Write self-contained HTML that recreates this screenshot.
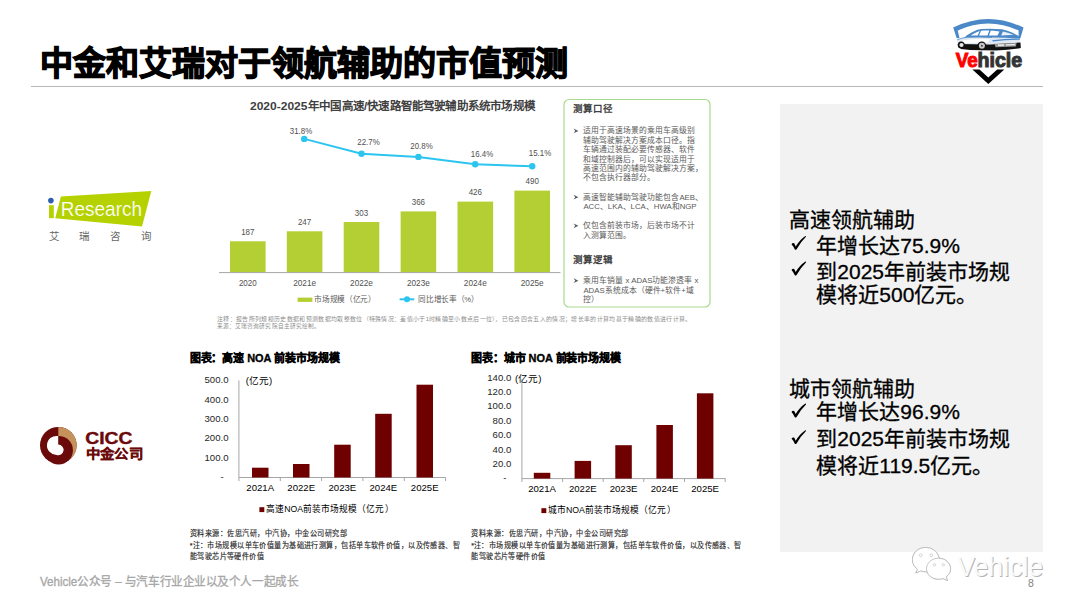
<!DOCTYPE html>
<html lang="zh-CN"><head><meta charset="utf-8">
<style>
html,body{margin:0;padding:0;background:#fff;}
body{width:1080px;height:612px;position:relative;overflow:hidden;font-family:"Liberation Sans",sans-serif;}
.a{position:absolute;white-space:nowrap;}
#title{left:39.8px;top:43.5px;font-size:33px;line-height:40px;font-weight:700;-webkit-text-stroke:1.25px #000;color:#000;}
#hr{left:31px;top:86px;width:1012px;height:1px;background:#b8b8b8;}
#gray{left:780px;top:104px;width:263px;height:448px;background:#f2f2f2;}
.rt{font-size:21px;line-height:25px;color:#000;-webkit-text-stroke:0.3px #000;}
svg{position:absolute;left:0;top:0;}
</style></head>
<body>
<div class="a" id="title">中金和艾瑞对于领航辅助的市值预测</div>
<div class="a" id="hr"></div>
<div class="a" id="gray"></div>

<!-- right panel text -->
<div class="a rt" style="left:789.4px;top:207px;">高速领航辅助</div>
<div class="a rt" style="left:816.3px;top:232.5px;">年增长达75.9%</div>
<div class="a rt" style="left:816.3px;top:258.5px;">到2025年前装市场规</div>
<div class="a rt" style="left:816.3px;top:281.5px;">模将近500亿元。</div>

<div class="a rt" style="left:789.4px;top:375.5px;">城市领航辅助</div>
<div class="a rt" style="left:816.3px;top:399px;">年增长达96.9%</div>
<div class="a rt" style="left:816.3px;top:426px;">到2025年前装市场规</div>
<div class="a rt" style="left:816.3px;top:453px;">模将近119.5亿元。</div>
<svg width="1080" height="612" viewBox="0 0 1080 612">
<path transform="translate(0,0.0)" d="M791.5,244.3 Q792.6,242.6 794.2,243.3 L795.7,246.4 Q799.8,239.6 805.4,235.9 Q806.2,235.8 806,236.7 Q800.8,241.6 796.6,249.3 Q795.6,250.2 794.8,249.5 Q793.6,246.6 791.5,244.3 Z" fill="#000"/>
<path transform="translate(0,25.7)" d="M791.5,244.3 Q792.6,242.6 794.2,243.3 L795.7,246.4 Q799.8,239.6 805.4,235.9 Q806.2,235.8 806,236.7 Q800.8,241.6 796.6,249.3 Q795.6,250.2 794.8,249.5 Q793.6,246.6 791.5,244.3 Z" fill="#000"/>
<path transform="translate(0,167.7)" d="M791.5,244.3 Q792.6,242.6 794.2,243.3 L795.7,246.4 Q799.8,239.6 805.4,235.9 Q806.2,235.8 806,236.7 Q800.8,241.6 796.6,249.3 Q795.6,250.2 794.8,249.5 Q793.6,246.6 791.5,244.3 Z" fill="#000"/>
<path transform="translate(0,194.3)" d="M791.5,244.3 Q792.6,242.6 794.2,243.3 L795.7,246.4 Q799.8,239.6 805.4,235.9 Q806.2,235.8 806,236.7 Q800.8,241.6 796.6,249.3 Q795.6,250.2 794.8,249.5 Q793.6,246.6 791.5,244.3 Z" fill="#000"/>
</svg>

<!-- iResearch chart -->
<svg width="1080" height="612" viewBox="0 0 1080 612">
  <!-- bars -->
  <g fill="#b3cf33">
    <rect x="230" y="241.3" width="35.6" height="31.1"/>
    <rect x="286.8" y="231.3" width="35.6" height="41.1"/>
    <rect x="343.7" y="222" width="35.6" height="50.4"/>
    <rect x="400.6" y="211.4" width="35.6" height="61"/>
    <rect x="457.5" y="201.6" width="35.6" height="70.8"/>
    <rect x="514.4" y="190.6" width="35.6" height="81.8"/>
  </g>
  <line x1="219" y1="272.6" x2="560.5" y2="272.6" stroke="#a6a6a6" stroke-width="1"/>
  <polyline points="304.2,138.9 361.5,153.8 418.4,156.9 475.2,164.3 532.2,166.2" fill="none" stroke="#2cc5ef" stroke-width="2"/>
  <g fill="#2cc5ef">
    <circle cx="304.2" cy="138.9" r="3.2"/>
    <circle cx="361.5" cy="153.8" r="3.2"/>
    <circle cx="418.4" cy="156.9" r="3.2"/>
    <circle cx="475.2" cy="164.3" r="3.2"/>
    <circle cx="532.2" cy="166.2" r="3.2"/>
  </g>
  <!-- green box -->
  <rect x="564" y="99.5" width="146" height="207.5" rx="5" ry="5" fill="none" stroke="#a9d98c" stroke-width="1.2"/>
  <!-- legend -->
  <rect x="297.6" y="297.6" width="14.8" height="4.3" fill="#b3cf33"/>
  <line x1="399.6" y1="299.3" x2="414.3" y2="299.3" stroke="#2cc5ef" stroke-width="2"/>
  <circle cx="407" cy="299.3" r="3" fill="#2cc5ef"/>

  <!-- CICC chart 1 -->
  <g stroke="#a6a6a6" stroke-width="1" fill="none">
    <line x1="238.9" y1="380.4" x2="238.9" y2="481"/>
    <line x1="238.9" y1="477.5" x2="445.7" y2="477.5"/>
    <line x1="280.3" y1="477.5" x2="280.3" y2="481"/>
    <line x1="321.6" y1="477.5" x2="321.6" y2="481"/>
    <line x1="362.9" y1="477.5" x2="362.9" y2="481"/>
    <line x1="404.3" y1="477.5" x2="404.3" y2="481"/>
    <line x1="445.6" y1="477.5" x2="445.6" y2="481"/>
  </g>
  <g fill="#6e0000">
    <rect x="252" y="467.7" width="16.5" height="9.8"/>
    <rect x="293" y="464" width="16.5" height="13.5"/>
    <rect x="334.2" y="444.7" width="16.5" height="32.8"/>
    <rect x="375.2" y="413.8" width="16.5" height="63.7"/>
    <rect x="416.5" y="384.7" width="16.5" height="92.8"/>
  </g>
  <rect x="259.4" y="507.2" width="4.9" height="4.9" fill="#6e0000"/>

  <!-- CICC chart 2 -->
  <g stroke="#a6a6a6" stroke-width="1" fill="none">
    <line x1="521.9" y1="379.2" x2="521.9" y2="482"/>
    <line x1="521.9" y1="478.6" x2="725.5" y2="478.6"/>
    <line x1="562.6" y1="478.6" x2="562.6" y2="482"/>
    <line x1="603.2" y1="478.6" x2="603.2" y2="482"/>
    <line x1="643.8" y1="478.6" x2="643.8" y2="482"/>
    <line x1="684.5" y1="478.6" x2="684.5" y2="482"/>
    <line x1="725.2" y1="478.6" x2="725.2" y2="482"/>
  </g>
  <g fill="#6e0000">
    <rect x="533.8" y="472.8" width="16.5" height="5.8"/>
    <rect x="574.6" y="460.9" width="16.5" height="17.7"/>
    <rect x="615.3" y="445.2" width="16.5" height="33.4"/>
    <rect x="656.4" y="425" width="16.5" height="53.6"/>
    <rect x="696.9" y="393.3" width="16.5" height="85.3"/>
  </g>
  <rect x="541.4" y="508.2" width="4.9" height="4.9" fill="#6e0000"/>
</svg>


<!-- iResearch chart text -->
<svg width="1080" height="612" viewBox="0 0 1080 612" style="font-family:'Liberation Sans',sans-serif">
  <text x="250" y="106" dominant-baseline="central" font-size="11.3" font-weight="700" fill="#404040" textLength="57.5" lengthAdjust="spacingAndGlyphs">2020-2025</text>
  <text x="308" y="106" dominant-baseline="central" font-size="11.3" font-weight="700" fill="#404040" textLength="227" lengthAdjust="spacingAndGlyphs">年中国高速/快速路智能驾驶辅助系统市场规模</text>
  <g font-size="9.6" fill="#505050" text-anchor="middle" dominant-baseline="central">
    <text x="247.8" y="231.7" textLength="13.3" lengthAdjust="spacingAndGlyphs">187</text>
    <text x="304.6" y="221.4" textLength="13.3" lengthAdjust="spacingAndGlyphs">247</text>
    <text x="361.5" y="212.2" textLength="13.3" lengthAdjust="spacingAndGlyphs">303</text>
    <text x="418.4" y="201.6" textLength="13.3" lengthAdjust="spacingAndGlyphs">366</text>
    <text x="475.3" y="191.4" textLength="13.3" lengthAdjust="spacingAndGlyphs">426</text>
    <text x="532.2" y="180.4" textLength="13.3" lengthAdjust="spacingAndGlyphs">490</text>
    <text x="247.8" y="282.7" textLength="17.8" lengthAdjust="spacingAndGlyphs">2020</text>
    <text x="304.6" y="282.7" textLength="22.9" lengthAdjust="spacingAndGlyphs">2021e</text>
    <text x="361.5" y="282.7" textLength="22.9" lengthAdjust="spacingAndGlyphs">2022e</text>
    <text x="418.4" y="282.7" textLength="22.9" lengthAdjust="spacingAndGlyphs">2023e</text>
    <text x="475.3" y="282.7" textLength="22.9" lengthAdjust="spacingAndGlyphs">2024e</text>
    <text x="532.2" y="282.7" textLength="22.9" lengthAdjust="spacingAndGlyphs">2025e</text>
    <text x="301" y="130.4" textLength="22.4" lengthAdjust="spacingAndGlyphs">31.8%</text>
    <text x="368.5" y="141.8" textLength="22.4" lengthAdjust="spacingAndGlyphs">22.7%</text>
    <text x="421.5" y="145.8" textLength="22.4" lengthAdjust="spacingAndGlyphs">20.8%</text>
    <text x="482" y="153.2" textLength="22.4" lengthAdjust="spacingAndGlyphs">16.4%</text>
    <text x="540" y="152.5" textLength="22.4" lengthAdjust="spacingAndGlyphs">15.1%</text>
  </g>
  <g font-size="8" fill="#595959" dominant-baseline="central">
    <text x="314.3" y="299.7" textLength="61.3" lengthAdjust="spacingAndGlyphs">市场规模（亿元）</text>
    <text x="418.3" y="299.7" textLength="60.3" lengthAdjust="spacingAndGlyphs">同比增长率（%）</text>
  </g>
  <g font-size="5.6" fill="#8c8c8c" dominant-baseline="central">
    <text x="217" y="318.9" textLength="474.6" lengthAdjust="spacingAndGlyphs">注释：报告所列规模历史数据和预测数据均取整数位（特殊情况：差值小于1时精确至小数点后一位），已包含四舍五入的情况；增长率的计算均基于精确的数值进行计算。</text>
    <text x="217" y="325.9" textLength="103" lengthAdjust="spacingAndGlyphs">来源：艾瑞咨询研究院自主研究绘制。</text>
  </g>
  <text x="572.8" y="108.9" dominant-baseline="central" font-size="9.5" font-weight="700" fill="#404040">测算口径</text>
  <text x="572.8" y="259" dominant-baseline="central" font-size="9.5" font-weight="700" fill="#404040">测算逻辑</text>
  <g font-size="7.8" fill="#595959" dominant-baseline="central">
    <path d="M573.6,128.5 L578.4,130.9 L573.6,133.3 L575.2,130.9 Z" fill="#595959"/>
    <text x="583.4" y="130.9">适用于高速场景的乘用车高级别</text>
    <text x="583.4" y="140.3">辅助驾驶解决方案成本口径。指</text>
    <text x="583.4" y="149.7">车辆通过装配必要传感器、软件</text>
    <text x="583.4" y="159.0">和域控制器后，可以实现适用于</text>
    <text x="583.4" y="168.3">高速范围内的辅助驾驶解决方案，</text>
    <text x="583.4" y="177.6">不包含执行器部分。</text>
    <path d="M573.6,194.8 L578.4,197.2 L573.6,199.6 L575.2,197.2 Z" fill="#595959"/>
    <text x="583.4" y="197.2">高速智能辅助驾驶功能包含AEB、</text>
    <text x="583.4" y="206.8">ACC、LKA、LCA、HWA和NGP</text>
    <path d="M573.6,223.4 L578.4,225.8 L573.6,228.2 L575.2,225.8 Z" fill="#595959"/>
    <text x="583.4" y="225.8">仅包含前装市场，后装市场不计</text>
    <text x="583.4" y="235.0">入测算范围。</text>
    <path d="M573.6,278.3 L578.4,280.7 L573.6,283.1 L575.2,280.7 Z" fill="#595959"/>
    <text x="583.4" y="280.7">乘用车销量 x ADAS功能渗透率 x</text>
    <text x="583.4" y="290.3">ADAS系统成本（硬件+软件+域</text>
    <text x="583.4" y="299.5">控）</text>
  </g>
</svg>

<!-- CICC charts text -->
<svg width="1080" height="612" viewBox="0 0 1080 612" style="font-family:'Liberation Sans',sans-serif">
  <text x="189.6" y="358.2" dominant-baseline="central" font-size="11" font-weight="700" fill="#000" stroke="#000" stroke-width="0.35" textLength="150" lengthAdjust="spacingAndGlyphs">图表：高速 NOA 前装市场规模</text>
  <text x="470.8" y="358" dominant-baseline="central" font-size="11" font-weight="700" fill="#000" stroke="#000" stroke-width="0.35" textLength="150.4" lengthAdjust="spacingAndGlyphs">图表：城市 NOA 前装市场规模</text>
  <g font-size="9.6" fill="#262626" text-anchor="end" dominant-baseline="central" transform="translate(0,-0.7)">
    <text x="228.5" y="380.4">500.0</text>
    <text x="228.5" y="399.8">400.0</text>
    <text x="228.5" y="419.2">300.0</text>
    <text x="228.5" y="438.6">200.0</text>
    <text x="228.5" y="458.0">100.0</text>
    <text x="223.8" y="477.4">-</text>
    <text x="511.3" y="377.9">140.0</text>
    <text x="511.3" y="392.3">120.0</text>
    <text x="511.3" y="406.7">100.0</text>
    <text x="511.3" y="421.1">80.0</text>
    <text x="511.3" y="435.5">60.0</text>
    <text x="511.3" y="449.9">40.0</text>
    <text x="511.3" y="464.3">20.0</text>
    <text x="506.5" y="478.6">-</text>
  </g>
  <g font-size="9.6" fill="#000" dominant-baseline="central">
    <text x="245.7" y="380">(亿元)</text>
    <text x="515.1" y="378">(亿元)</text>
    <text x="266.2" y="508.7" textLength="127.4" lengthAdjust="spacingAndGlyphs">高速NOA前装市场规模（亿元）</text>
    <text x="547.8" y="509.6" textLength="127.8" lengthAdjust="spacingAndGlyphs">城市NOA前装市场规模（亿元）</text>
  </g>
  <g font-size="9.6" fill="#000" text-anchor="middle" dominant-baseline="central">
    <text x="260.2" y="487.3">2021A</text>
    <text x="301.2" y="487.3">2022E</text>
    <text x="342.4" y="487.3">2023E</text>
    <text x="383.4" y="487.3">2024E</text>
    <text x="424.7" y="487.3">2025E</text>
    <text x="542" y="488.6">2021A</text>
    <text x="582.8" y="488.6">2022E</text>
    <text x="623.5" y="488.6">2023E</text>
    <text x="664.6" y="488.6">2024E</text>
    <text x="705.1" y="488.6">2025E</text>
  </g>
  <g font-size="7.6" fill="#262626" stroke="#262626" stroke-width="0.15" dominant-baseline="central">
    <text x="189.8" y="533.9" textLength="157.7" lengthAdjust="spacingAndGlyphs">资料来源：佐思汽研，中汽协，中金公司研究部</text>
    <text x="189.8" y="545.1" textLength="270.4" lengthAdjust="spacingAndGlyphs">*注：市场规模以单车价值量为基础进行测算，包括单车软件价值，以及传感器、智</text>
    <text x="189.8" y="556.4" textLength="74.4" lengthAdjust="spacingAndGlyphs">能驾驶芯片等硬件价值</text>
    <text x="471.3" y="533.9" textLength="157.7" lengthAdjust="spacingAndGlyphs">资料来源：佐思汽研，中汽协，中金公司研究部</text>
    <text x="471.3" y="545.1" textLength="270.4" lengthAdjust="spacingAndGlyphs">*注：市场规模以单车价值量为基础进行测算，包括单车软件价值，以及传感器、智</text>
    <text x="471.3" y="556.4" textLength="74.4" lengthAdjust="spacingAndGlyphs">能驾驶芯片等硬件价值</text>
  </g>
</svg>


<!-- logos -->
<svg width="1080" height="612" viewBox="0 0 1080 612" style="font-family:'Liberation Sans',sans-serif">
  <!-- iResearch -->
  <path d="M60.9,196.6 L151.3,191 L142,226.4 L55.2,218.2 Z" fill="#b5d200"/>
  <rect x="49" y="205.2" width="4.8" height="13" fill="#b5d200"/>
  <circle cx="50.9" cy="200.6" r="2.8" fill="#2e5fae"/>
  <text x="60.8" y="216.1" font-size="20.3" fill="#fff" stroke="#b5d200" stroke-width="0.2" textLength="81.2" lengthAdjust="spacingAndGlyphs">Research</text>
  <g font-size="10.5" fill="#666" dominant-baseline="central">
    <text x="48.5" y="236.3">艾</text>
    <text x="79.3" y="236.3">瑞</text>
    <text x="110.1" y="236.3">咨</text>
    <text x="140.7" y="236.3">询</text>
  </g>
  <!-- CICC -->
  <circle cx="58.3" cy="445.2" r="18.3" fill="#6b0a0a"/>
  <path d="M58.3,426.9 A18.3,18.3 0 0 1 67.6,461.0 L58.3,445.2 Z" fill="#c4925a"/>
  <circle cx="58.6" cy="450.2" r="14.3" fill="#6b0a0a"/>
  <path d="M58.2,436.1 A9.48,9.48 0 1 0 56.5,454.9 A5.3,5.3 0 1 0 58.2,444.6 Z" fill="#fff"/>
  <text x="85.2" y="444" font-size="16.5" font-weight="700" fill="#6b0a0a" textLength="47.2" lengthAdjust="spacingAndGlyphs" stroke="#6b0a0a" stroke-width="0.4">CICC</text>
  <text x="85.6" y="453.8" dominant-baseline="central" font-size="13" font-weight="700" fill="#6b0a0a" stroke="#6b0a0a" stroke-width="0.3" textLength="57.5" lengthAdjust="spacingAndGlyphs">中金公司</text>

  <!-- Vehicle logo -->
  <path d="M953.2,27.6 Q988.3,10.5 1023.5,27.6 L1020.4,38.2 L1018.6,38 L1018.6,30.4 Q988.3,16.5 957.7,30.4 L959.5,38 L956.7,38.2 Z" fill="#4a88c8"/>
  <path d="M966.5,35.6 L972,32.2 Q977,29.4 981,29 Q991,28.2 1002,29.2 Q1008,30.4 1012,32.4 Q1017,35 1020,36.6 L1020,40 L990,40 L962,40.5 Z" fill="#4a88c8"/>
  <path d="M970.5,35.6 L976,32.4 Q979.5,30.9 983.5,30.6 Q992,30.2 999.5,31.4 L997.5,35.6 Q985,35.2 970.5,35.6 Z" fill="#fff"/>
  <path d="M979.8,30.8 L981.2,30.6 L978.8,36.3 L977.3,36.3 Z M989.5,30.1 L991,30.1 L988.6,36.4 L987.1,36.4 Z" fill="#4a88c8"/>
  <path d="M1003,31.4 Q1009,32.6 1013.5,34.8 L1001,35.6 Z" fill="#eaf1f9"/>
  <path d="M957.2,39.8 Q961,38 967,37.3 Q980,36.8 992,37.4 Q1006,37.6 1019.8,38.5 L1019.8,43 L995,44 L958,45 Z" fill="#dfe8f3"/>
  <path d="M962,40.5 Q975,38.6 990,39.2 L988,42.5 L963,43 Z" fill="#fff"/>
  <path d="M957.2,39.8 Q961,38 967,37.3 Q980,36.8 992,37.4" fill="none" stroke="#4a88c8" stroke-width="0.8"/>
  <path d="M992,40.2 Q1005,38.6 1019.8,38.6 L1019.8,39.8 Q1005,40 993,41.4 Z" fill="#4a88c8"/>
  <path d="M957.5,44 L990,44.4 L1020.5,42.6 L1020.8,48 Q1010,50 996,50.4 L970,50 L961,49 Z" fill="#111"/>
  <path d="M994.5,43.8 L1016.5,43 L1016,46.4 L995.5,47.2 Z" fill="#9a9a9a"/>
  <path d="M998,44.5 L1004,44.3 L1004,45.7 L998,46.1 Z M1006,44.2 L1015,43.9 L1015,45.3 L1006,45.6 Z" fill="#f0f0f0"/>
  <circle cx="961.2" cy="45" r="3.5" fill="#111"/>
  <circle cx="961.5" cy="45" r="2.1" fill="#e8e8e8"/>
  <circle cx="981.8" cy="45.8" r="4.4" fill="#111"/>
  <circle cx="981.9" cy="45.8" r="3" fill="#c8c8c8"/>
  <circle cx="981.9" cy="45.8" r="1" fill="#444"/>
  <text x="955.8" y="66.8" font-size="19.5" font-weight="700" fill="#ff0000" stroke="#ff0000" stroke-width="1" textLength="22" lengthAdjust="spacingAndGlyphs">Ve</text>
  <text x="977.5" y="66.8" font-size="19.5" font-weight="700" fill="#333" stroke="#333" stroke-width="1" textLength="44.6" lengthAdjust="spacingAndGlyphs">hicle</text>
  <path d="M972.4,69.4 L979.5,69.4 L988.3,77.5 L997.2,69.4 L1004.3,69.4 L988.3,84 Z" fill="#000"/>

  <!-- WeChat watermark -->
  <g fill="#fff" stroke="#b8b8b8" stroke-width="0.8" style="filter:drop-shadow(0.6px 0.6px 0.3px #c0c0c0)">
    <path d="M925.8,547.5 C918,547.5 912.4,553 912.4,559.8 C912.4,563.8 914.5,567 917.5,569.2 L915.8,573 L920.8,570.8 C922.4,571.4 924,571.8 925.8,571.8 C933.2,571.8 939.2,566.4 939.2,559.8 C939.2,553 933.2,547.5 925.8,547.5 Z"/>
    <path d="M938.5,558.2 C931.8,558.2 926.5,563 926.5,568.8 C926.5,574.6 931.8,579.2 938.5,579.2 C940,579.2 941.4,579 942.8,578.5 L947.5,580.5 L946.2,576.8 C949,574.8 950.6,572 950.6,568.8 C950.6,563 945.2,558.2 938.5,558.2 Z"/>
  </g>
  <g fill="#fff" stroke="#bdbdbd" stroke-width="0.6">
    <circle cx="920.8" cy="555.2" r="1.4"/>
    <circle cx="931.2" cy="555.2" r="1.4"/>
    <circle cx="934.5" cy="564.8" r="1.2"/>
    <circle cx="943.3" cy="564.8" r="1.2"/>
  </g>
  <text x="958.2" y="577.3" font-size="28.5" fill="#b4b4b4" textLength="86" lengthAdjust="spacingAndGlyphs">Vehicle</text>
  <text x="957.2" y="576.3" font-size="28.5" fill="#fbfbfb" textLength="86" lengthAdjust="spacingAndGlyphs">Vehicle</text>
</svg>

<!-- footer -->
<svg width="1080" height="612" viewBox="0 0 1080 612" style="font-family:'Liberation Sans',sans-serif"><text x="40" y="581.8" dominant-baseline="central" font-size="12" fill="#a6a6a6" stroke="#a6a6a6" stroke-width="0.3" textLength="258.3" lengthAdjust="spacingAndGlyphs">Vehicle公众号 – 与汽车行业企业以及个人一起成长</text></svg>
<div class="a" style="left:1028px;top:576px;font-size:10.5px;line-height:14px;color:#7f7f7f;">8</div>
</body></html>
